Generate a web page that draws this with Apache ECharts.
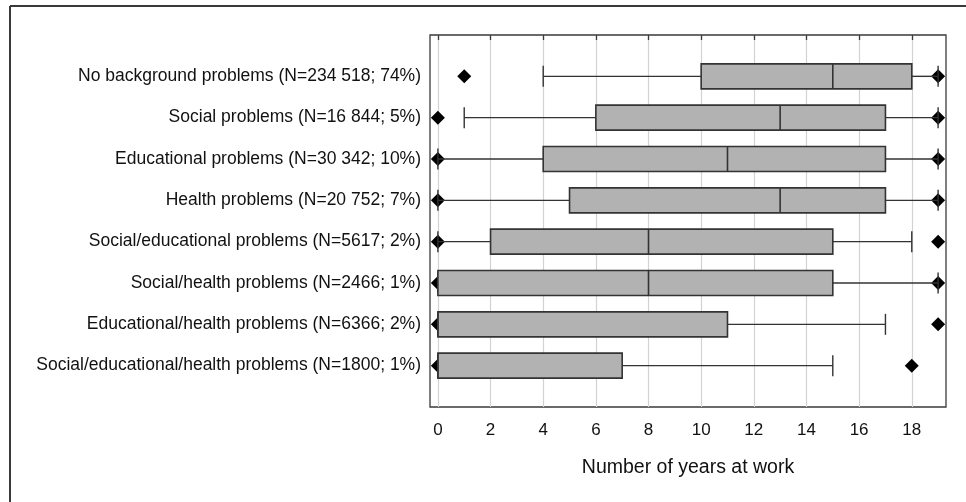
<!DOCTYPE html>
<html>
<head>
<meta charset="utf-8">
<script src="https://cdn.jsdelivr.net/npm/echarts@6/dist/echarts.min.js"></script>
<style>
html,body{margin:0;padding:0;background:#fff;}
#c{width:966px;height:502px;}
</style>
</head>
<body>
<div id="c"></div>
<script>
const categories = [
  'No background problems (N=234 518; 74%)',
  'Social problems (N=16 844; 5%)',
  'Educational problems (N=30 342; 10%)',
  'Health problems (N=20 752; 7%)',
  'Social/educational problems (N=5617; 2%)',
  'Social/health problems (N=2466; 1%)',
  'Educational/health problems (N=6366; 2%)',
  'Social/educational/health problems (N=1800; 1%)'
];
const whiskerLow  = [4, 1, 0, 0, 0, 0, 0, 0];
const q1          = [10, 6, 4, 5, 2, 0, 0, 0];
const median      = [15, 13, 11, 13, 8, 8, 0, 0];
const q3          = [18, 17, 17, 17, 15, 15, 11, 7];
const whiskerHigh = [19, 19, 19, 19, 18, 19, 17, 15];
// outliers: [row index, value]
const outliers = [
  [0, 1], [0, 19],
  [1, 0], [1, 19],
  [2, 0], [2, 19],
  [3, 0], [3, 19],
  [4, 0], [4, 19],
  [5, 0], [5, 19],
  [6, 0], [6, 19],
  [7, 0], [7, 18]
];
const xTicks = [0, 2, 4, 6, 8, 10, 12, 14, 16, 18];

const boxData = categories.map((c, i) => [i + 1, whiskerLow[i], q1[i], median[i], q3[i], whiskerHigh[i]]);
const outlierData = outliers.map(o => [o[1], o[0] + 1]);

const chart = echarts.init(document.getElementById('c'));
const FONT = 'Liberation Sans, Arial, sans-serif';

function renderBox(params, api) {
  const row = api.value(0);
  const lo = api.coord([api.value(1), row]);
  const b1 = api.coord([api.value(2), row]);
  const md = api.coord([api.value(3), row]);
  const b3 = api.coord([api.value(4), row]);
  const hi = api.coord([api.value(5), row]);
  const y = lo[1];
  const bh = 25, ch = 21;
  const lineStyle = {stroke: '#333333', lineWidth: 1.4};
  const children = [];
  if (b1[0] > lo[0]) children.push({type: 'line', shape: {x1: lo[0], y1: y, x2: b1[0], y2: y}, style: lineStyle});
  if (hi[0] > b3[0]) children.push({type: 'line', shape: {x1: b3[0], y1: y, x2: hi[0], y2: y}, style: lineStyle});
  children.push({type: 'line', shape: {x1: lo[0], y1: y - ch / 2, x2: lo[0], y2: y + ch / 2}, style: lineStyle});
  children.push({type: 'line', shape: {x1: hi[0], y1: y - ch / 2, x2: hi[0], y2: y + ch / 2}, style: lineStyle});
  children.push({type: 'rect', shape: {x: b1[0], y: y - bh / 2, width: b3[0] - b1[0], height: bh},
    style: {fill: '#b2b2b2', stroke: '#333333', lineWidth: 1.6}});
  children.push({type: 'line', shape: {x1: md[0], y1: y - bh / 2, x2: md[0], y2: y + bh / 2},
    style: {stroke: '#333333', lineWidth: 1.6}});
  return {type: 'group', children: children};
}

chart.setOption({
  animation: false,
  backgroundColor: '#ffffff',
  graphic: [
    {type: 'line', shape: {x1: 10, y1: 6, x2: 966, y2: 6}, style: {stroke: '#3a3a3a', lineWidth: 2}},
    {type: 'line', shape: {x1: 10, y1: 6, x2: 10, y2: 502}, style: {stroke: '#3a3a3a', lineWidth: 2}}
  ],
  grid: {left: 430, top: 35, right: 20, bottom: 95, show: true, borderColor: '#3a3a3a', borderWidth: 1.3, backgroundColor: 'transparent'},
  xAxis: {
    type: 'value', min: -0.3, max: 19.3,
    name: 'Number of years at work', nameLocation: 'middle', nameGap: 51,
    nameTextStyle: {fontFamily: FONT, fontSize: 19.5, color: '#111'},
    axisLine: {show: false},
    axisTick: {show: true, length: 5, lineStyle: {color: '#3a3a3a', width: 1.3},
      customValues: xTicks},
    axisLabel: {fontFamily: FONT, fontSize: 17, color: '#111', margin: 15, customValues: xTicks},
    splitLine: {show: false}
  },
  yAxis: {
    type: 'value', min: 0, max: 9, interval: 1, inverse: true,
    axisLine: {show: false}, axisTick: {show: false},
    splitLine: {show: false},
    axisLabel: {fontFamily: FONT, fontSize: 17.5, color: '#111', margin: 9,
      formatter: v => (v >= 1 && v <= 8) ? categories[v - 1] : ''}
  },
  series: [
    {
      type: 'line', data: xTicks.map(v => [v, 0]), symbol: 'none', lineStyle: {opacity: 0}, silent: true, z: 0,
      markLine: {symbol: 'none', silent: true, z: 0, label: {show: false},
        lineStyle: {color: '#d2d2d2', width: 1.2, type: 'solid'},
        data: xTicks.map(v => ({xAxis: v}))}
    },
    {
      type: 'scatter', data: outlierData, symbol: 'diamond', symbolSize: 14,
      itemStyle: {color: '#000', opacity: 1}, z: 1, silent: true
    },
    {
      type: 'custom', renderItem: renderBox, data: boxData, z: 2, silent: true,
      encode: {x: [1, 2, 3, 4, 5], y: 0}
    }
  ]
});
</script>
</body>
</html>
